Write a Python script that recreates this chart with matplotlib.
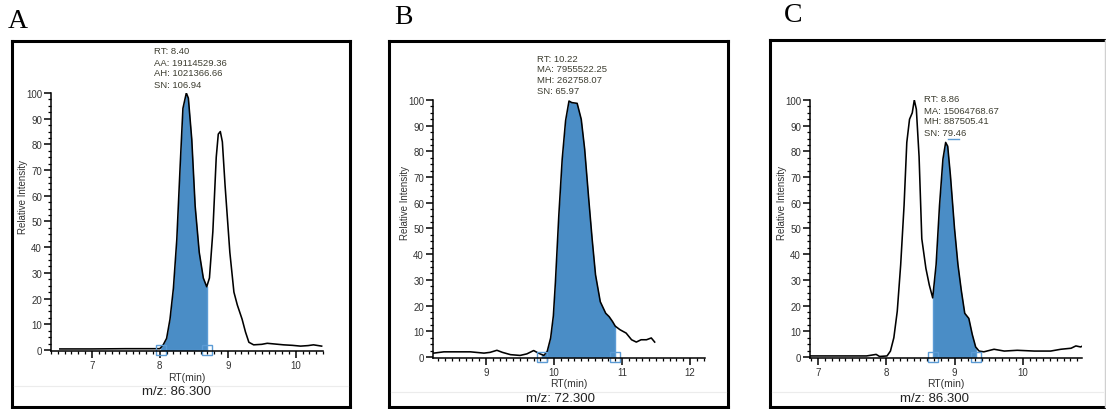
import numpy as np
import matplotlib
matplotlib.use("Agg")
import matplotlib.pyplot as plt
from matplotlib.ticker import MultipleLocator

plt.rcParams["font.family"] = ["Liberation Sans", "DejaVu Sans"]

# =========================================================
# DATA
# =========================================================

# Panel A, m/z 86.300
a_rt = [6.53, 7.0, 7.5, 8.0, 8.05, 8.10, 8.15, 8.20, 8.25, 8.30, 8.34, 8.39, 8.42,
        8.47, 8.52, 8.58, 8.64, 8.69, 8.73, 8.78, 8.83, 8.86, 8.89, 8.92, 8.96,
        9.03, 9.09, 9.14, 9.21, 9.26, 9.31, 9.38, 9.50, 9.58, 9.70, 9.82, 9.95,
        10.07, 10.18, 10.26, 10.38]
a_int = [0.4, 0.4, 0.5, 0.5, 2.0, 4.5, 12, 24, 43, 72, 94, 100, 98,
         82, 56, 38, 28, 24.6, 28, 46, 75, 84, 85, 81, 64,
         38, 22.5, 17.5, 12, 7, 3, 2, 2.2, 2.6, 2.3, 2.0, 1.8,
         1.5, 1.7, 2.0, 1.5]
a_peak = (8.02, 8.69)
a_info = ["RT: 8.40", "AA: 19114529.36", "AH: 1021366.66", "SN: 106.94"]
a_mz = "m/z: 86.300"
a_xticks = [7, 8, 9, 10]

# Panel B, m/z 72.300
b_rt = [8.23, 8.38, 8.55, 8.77, 8.97, 9.06, 9.16, 9.24, 9.36, 9.50, 9.60, 9.70,
        9.77, 9.85, 9.90, 9.95, 9.99, 10.02, 10.07, 10.12, 10.17, 10.22, 10.26,
        10.34, 10.40, 10.45, 10.51, 10.56, 10.61, 10.68, 10.76, 10.81, 10.86,
        10.90, 10.97, 11.06, 11.14, 11.21, 11.28, 11.36, 11.43, 11.48]
b_int = [1.5, 2.0, 2.0, 2.0, 1.5, 1.8, 2.6, 1.8, 0.9, 0.6, 1.2, 2.5,
         1.5, 0.6, 2.2, 7.4, 16, 29, 55, 77, 92, 99.6, 99,
         98.7, 92.5, 81, 61.5, 46, 32, 21.5, 17, 15.7, 13.8,
         12, 10.6, 9.3, 6.7, 5.8, 6.7, 6.7, 7.4, 5.8]
b_peak = (9.83, 10.90)
b_info = ["RT: 10.22", "MA: 7955522.25", "MH: 262758.07", "SN: 65.97"]
b_mz = "m/z: 72.300"
b_xticks = [9, 10, 11, 12]

# Panel C, m/z 86.300
c_rt = [6.88, 7.3, 7.71, 7.85, 7.90, 8.01, 8.06, 8.11, 8.16, 8.21, 8.26, 8.30,
        8.34, 8.38, 8.41, 8.44, 8.48, 8.52, 8.58, 8.63, 8.68, 8.73, 8.78, 8.83,
        8.87, 8.90, 8.94, 9.00, 9.05, 9.10, 9.15, 9.21, 9.26, 9.31, 9.36, 9.43,
        9.58, 9.73, 9.92, 10.17, 10.41, 10.56, 10.71, 10.78, 10.85, 10.88]
c_int = [0.4, 0.4, 0.4, 1.0, 0.2, 0.4, 2.3, 7.5, 17.8, 35.8, 59, 83.5,
         92.5, 95, 100, 96.4, 78, 46, 34.5, 28, 23, 36, 59, 77,
         83.5, 82, 70.6, 50, 36, 25.8, 17, 15, 8.8, 3.9, 2.3, 2.0,
         3.0, 2.3, 2.6, 2.3, 2.3, 3.0, 3.4, 4.3, 3.9, 4.3]
c_peak = (8.68, 9.32)
c_info = ["RT: 8.86", "MA: 15064768.67", "MH: 887505.41", "SN: 79.46"]
c_mz = "m/z: 86.300"
c_xticks = [7, 8, 9, 10]

# =========================================================
# LAYOUT (pixels of the 1106 x 410 reference)
# =========================================================

W, H = 1106, 410
FILL = "#4a8dc6"
EDGE = "#5b9bd5"
INFO_COLOR = "#3d3d30"

panels = [
    dict(label="A", label_xy=(18, 22), frame=(12, 42, 350, 408),
         axes=(51, 94, 323, 352), xlim=(6.40, 10.40),
         rt=a_rt, inten=a_int, peak=a_peak, info=a_info, info_xy=(154, 52),
         mz=a_mz, rt_label_y=378, mz_xy=(177, 392), sep_y=387,
         ylab_xy=(23, 197), xticks=a_xticks, top_mark=None),
    dict(label="B", label_xy=(403, 17), frame=(389, 42, 728, 408),
         axes=(433, 101, 705, 359), xlim=(8.22, 12.22),
         rt=b_rt, inten=b_int, peak=b_peak, info=b_info, info_xy=(537, 59),
         mz=b_mz, rt_label_y=384, mz_xy=(560, 399), sep_y=393,
         ylab_xy=(405, 203), xticks=b_xticks, top_mark=None),
    dict(label="C", label_xy=(793, 16), frame=(770, 41, 1105, 408),
         axes=(810, 101, 1082, 359), xlim=(6.88, 10.87),
         rt=c_rt, inten=c_int, peak=c_peak, info=c_info, info_xy=(924, 100),
         mz=c_mz, rt_label_y=384, mz_xy=(935, 399), sep_y=393,
         ylab_xy=(782, 203), xticks=c_xticks, top_mark=(8.90, 9.07, 84.7)),
]


def fx(px):
    return px / W


def fy(py):
    return 1 - py / H


fig = plt.figure(figsize=(W / 100, H / 100), dpi=100)

for p in panels:
    # outer frame of each screenshot
    x0, y0, x1, y1 = p["frame"]
    fig.add_artist(plt.Line2D([fx(x0), fx(x1)], [fy(y0), fy(y0)], color="black", lw=2.2))
    fig.add_artist(plt.Line2D([fx(x0), fx(x0)], [fy(y0), fy(y1)], color="black", lw=2.2))
    fig.add_artist(plt.Line2D([fx(x0), fx(x1)], [fy(y1), fy(y1)], color="black", lw=2.2))
    right_color = "#d0d0d0" if p["label"] == "C" else "black"
    right_lw = 1.0 if p["label"] == "C" else 2.2
    fig.add_artist(plt.Line2D([fx(x1), fx(x1)], [fy(y0), fy(y1)], color=right_color, lw=right_lw))
    fig.add_artist(plt.Line2D([fx(x0 + 2), fx(x1 - 2)], [fy(p["sep_y"]), fy(p["sep_y"])],
                              color="#ececec", lw=0.8))

    fig.text(fx(p["label_xy"][0]), fy(p["label_xy"][1]), p["label"],
             family=["Liberation Serif", "DejaVu Serif"], fontsize=20,
             ha="center", va="center")

    # chromatogram axes
    ax_l, ax_t, ax_r, ax_b = p["axes"]
    ax = fig.add_axes([fx(ax_l), fy(ax_b), fx(ax_r - ax_l), (ax_b - ax_t) / H])
    ax.set_xlim(*p["xlim"])
    ax.set_ylim(-0.4, 100)
    for side in ["top", "right"]:
        ax.spines[side].set_visible(False)
    ax.spines["left"].set_linewidth(1.1)
    ax.spines["bottom"].set_linewidth(1.1)
    ax.patch.set_alpha(0)

    rt = np.array(p["rt"])
    inten = np.array(p["inten"])
    start, end = p["peak"]
    mask = (rt >= start) & (rt <= end)
    fill_x = np.concatenate([[start], rt[mask], [end]])
    fill_y = np.interp(fill_x, rt, inten)
    ax.fill_between(fill_x, 0, fill_y, color=FILL, lw=0)
    ax.plot([end, end], [0, np.interp(end, rt, inten)], color=EDGE, lw=1.0)
    ax.plot([start, start], [0, np.interp(start, rt, inten)], color=EDGE, lw=1.0)
    ax.plot(rt, inten, color="black", lw=1.15)

    # baseline markers at the integration limits
    ax.plot([start, end], [0, 0], color=EDGE, lw=1.0, clip_on=False)
    ax.plot([start, end], [0, 0], ls="none", marker="s", ms=6.5, mfc="none",
            mec=EDGE, mew=1.0, clip_on=False)

    if p["top_mark"] is not None:
        t0, t1, ty = p["top_mark"]
        ax.plot([t0, t1], [ty, ty], color=EDGE, lw=1.0)

    ax.set_xticks(p["xticks"])
    ax.xaxis.set_minor_locator(MultipleLocator(0.1))
    ax.set_yticks(range(0, 101, 10))
    ax.yaxis.set_minor_locator(MultipleLocator(2.5))
    ax.tick_params(axis="both", which="major", length=5, width=1.1,
                   labelsize=7, labelcolor="#333333", pad=1.5)
    ax.tick_params(axis="both", which="minor", length=2.5, width=0.9)

    # peak info text
    ix, iy = p["info_xy"]
    for i, line in enumerate(p["info"]):
        fig.text(fx(ix), fy(iy + 11 * i), line, fontsize=6.8, color=INFO_COLOR,
                 ha="left", va="center")

    fig.text(fx(p["ylab_xy"][0]), fy(p["ylab_xy"][1]), "Relative Intensity",
             rotation=90, fontsize=7, color="#333333", ha="center", va="center")
    fig.text(fx((ax_l + ax_r) / 2), fy(p["rt_label_y"]), "RT(min)",
             fontsize=7.5, color="#333333", ha="center", va="center")
    fig.text(fx(p["mz_xy"][0]), fy(p["mz_xy"][1]), p["mz"],
             fontsize=9.5, color="#222222", ha="center", va="center")

fig.savefig("out.png", dpi=100)
